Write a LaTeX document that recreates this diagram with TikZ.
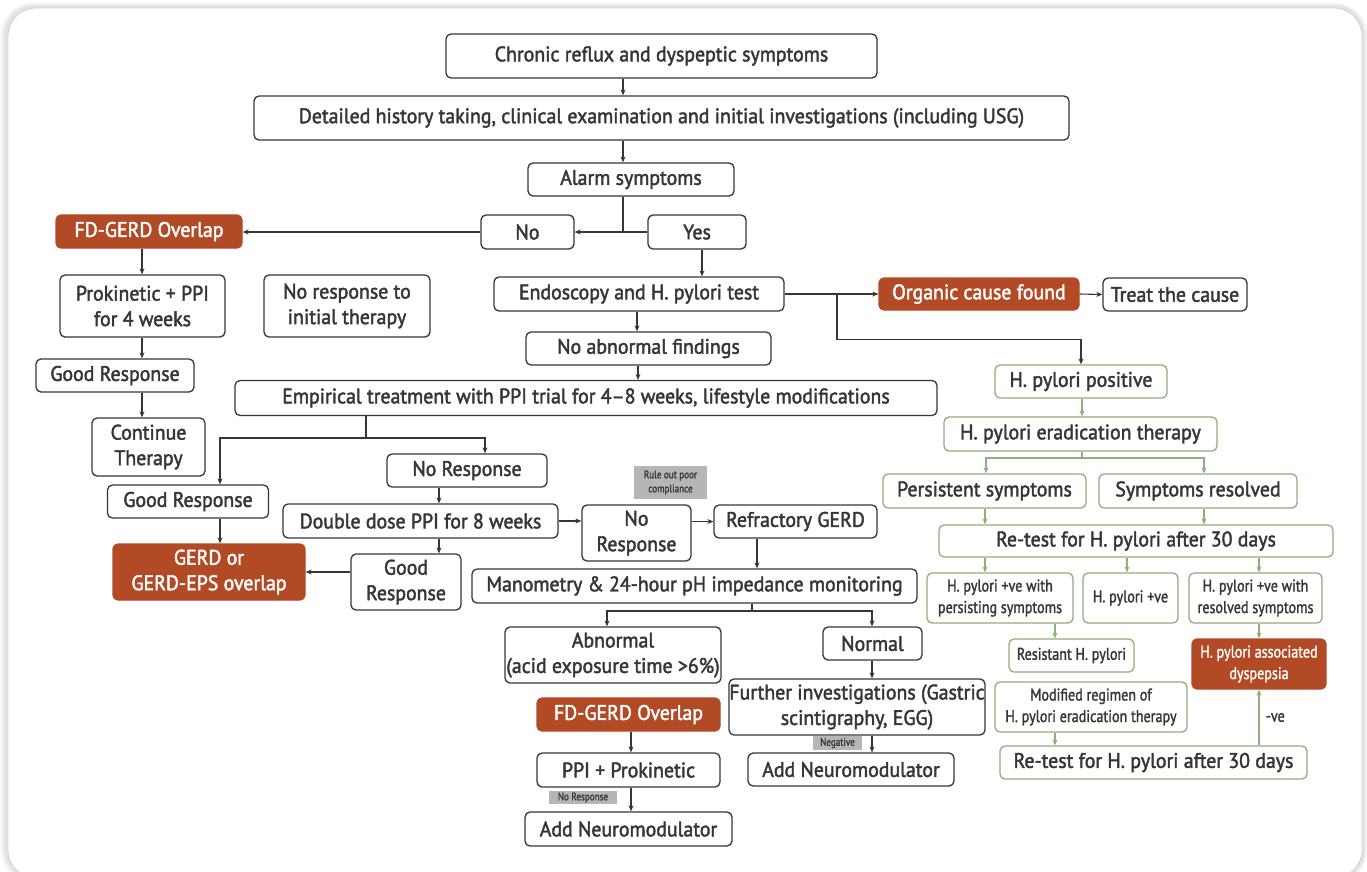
\documentclass[tikz,border=0pt]{standalone}
\usepackage{fontspec}
\setmainfont[FakeStretch=0.945, FakeBold=2]{PT Sans}
\newfontfamily\narrowfont[FakeStretch=0.83, FakeBold=1.5]{PT Sans}
\usetikzlibrary{arrows.meta,calc}

\definecolor{rust}{HTML}{B24A25}
\definecolor{leaf}{HTML}{8FAE7B}
\definecolor{ink}{HTML}{363636}
\definecolor{tagbg}{HTML}{B6B6B9}

\newcommand\mainsz{\fontsize{21}{25.5}\selectfont}
\newcommand\smallsz{\narrowfont\fontsize{17}{21.5}\selectfont}
\newcommand\tagsz{\narrowfont\fontsize{11}{14}\selectfont}

\begin{document}
\begin{tikzpicture}[x=1pt, y=-1pt,
        box/.style={draw=ink, line width=1.3pt, rounded corners=5pt, fill=white,
                    text=ink, align=center, inner sep=0pt, font=\mainsz},
        sz/.style 2 args={minimum width=#1, minimum height=#2},
        hot/.style={box, draw=rust, fill=rust, text=white},
        gbox/.style={box, draw=leaf},
        sbox/.style={gbox, font=\smallsz},
        tag/.style={fill=tagbg, text=ink, inner sep=0pt, align=center, font=\tagsz},
        arr/.style={draw=ink, line width=1.1pt, -{Stealth[length=6pt,width=5pt]}},
        garr/.style={arr, draw=leaf}
    ]
    \useasboundingbox (0,0) rectangle (1367,871);

    % frame
    \fill[gray!10, rounded corners=32] (1,3) rectangle (1367,882);
    \fill[gray!22, rounded corners=30] (4,5) rectangle (1365,880);
    \filldraw[fill=white, draw=gray!35, line width=0.8pt, rounded corners=28]
        (8,8) rectangle (1362,878);

    % main column
    \node [box, sz={431}{44}] (chronic) at (661.5,56) {Chronic reflux and dyspeptic symptoms};
    \node [box, sz={815}{44}] (history) at (661.5,118)
        {Detailed history taking, clinical examination and initial investigations (including USG)};
    \node [box, sz={206}{33}] (alarm) at (631,179.5) {Alarm symptoms};
    \node [box, sz={93}{34}]  (no)    at (527.5,232) {No};
    \node [box, sz={98}{34}]  (yes)   at (697,232) {Yes};
    \node [box, sz={290}{34}] (endo)  at (639,294) {Endoscopy and H. pylori test};
    \node [hot, sz={200}{32}] (organic) at (979,294) {Organic cause found};
    \node [box, sz={144}{33}] (treat) at (1175,294.5) {Treat the cause};
    \node [box, sz={245}{33}] (noabn) at (648.5,348.5) {No abnormal findings};
    \node [box, sz={702}{35}] (empir) at (586,398)
        {Empirical treatment with PPI trial for 4--8 weeks, lifestyle modifications};

    % left branch
    \node [hot, sz={186}{33}] (fd1) at (149,231.5) {FD-GERD Overlap};
    \node [box, sz={165}{62}] (prokin) at (142.5,306) {Prokinetic + PPI\\for 4 weeks};
    \node [box, sz={166}{62}] (noresp) at (347,306) {No response to\\initial therapy};
    \node [box, sz={158}{33}] (goodresp1) at (115,375.5) {Good Response};
    \node [box, sz={113}{58}] (contin) at (148.5,447) {Continue\\Therapy};
    \node [box, sz={161}{33}] (goodresp2) at (188,501.5) {Good Response};
    \node [box, sz={160}{33}] (noresp2) at (467,470.5) {No Response};
    \node [box, sz={275}{34}] (double) at (420.5,521) {Double dose PPI for 8 weeks};
    \node [hot, sz={192}{56}] (gerd) at (209,572) {GERD or\\GERD-EPS overlap};
    \node [box, sz={110}{56}] (good3) at (406,582) {Good\\Response};

    % refractory branch
    \node [box, sz={109}{56}] (noresp3) at (636.5,533) {No\\Response};
    \node [tag, sz={73}{33}]  (ruleout) at (670.5,482.5) {Rule out poor\\compliance};
    \node [box, sz={163}{33}] (refract) at (795.5,521.5) {Refractory GERD};
    \node [box, sz={445}{34}] (mano) at (694.5,586) {Manometry \& 24-hour pH impedance monitoring};
    \node [box, sz={216}{56}] (abnormal) at (613,655) {Abnormal\\(acid exposure time >6\%)};
    \node [box, sz={99}{33}]  (normal) at (872.5,643.5) {Normal};
    \node [box, sz={256}{56}] (further) at (857,707) {Further investigations (Gastric\\scintigraphy, EGG)};
    \node [hot, sz={183}{33}] (fd2) at (628.5,714.5) {FD-GERD Overlap};
    \node [box, sz={183}{34}] (ppiprok) at (628.5,770) {PPI + Prokinetic};
    \node [box, sz={207}{34}] (addneuro1) at (628.5,829) {Add Neuromodulator};
    \node [tag, sz={68}{13}]  (tagnr) at (583,797.5) {No Response};
    \node [box, sz={206}{33}] (addneuro2) at (851,769.5) {Add Neuromodulator};
    \node [tag, sz={49}{14}]  (tagneg) at (837.5,743) {Negative};

    % H. pylori branch
    \node [gbox, sz={172}{33}] (hpos) at (1081,381.5) {H. pylori positive};
    \node [gbox, sz={273}{34}] (hera) at (1080.5,434) {H. pylori eradication therapy};
    \node [gbox, sz={203}{34}] (persist) at (984.5,491) {Persistent symptoms};
    \node [gbox, sz={198}{34}] (resolved) at (1198,491) {Symptoms resolved};
    \node [gbox, sz={394}{32}] (retest1) at (1136,541) {Re-test for H. pylori after 30 days};
    \node [sbox, sz={146}{50}] (hp1) at (1000,598) {H. pylori +ve with\\persisting symptoms};
    \node [sbox, sz={95}{50}]  (hp2) at (1130.5,598) {H. pylori +ve};
    \node [sbox, sz={133}{50}] (hp3) at (1255.5,598) {H. pylori +ve with\\resolved symptoms};
    \node [sbox, sz={125}{33}] (resist) at (1071.5,655.5) {Resistant H. pylori};
    \node [hot, font=\smallsz, sz={134}{50}] (hpassoc) at (1259,664) {H. pylori associated\\dyspepsia};
    \node [sbox, sz={192}{50}] (modreg) at (1091,707) {Modified regimen of\\H. pylori eradication therapy};
    \node [gbox, sz={307}{33}] (retest2) at (1153.5,762.5) {Re-test for H. pylori after 30 days};

    % straight down arrows
    \foreach \a/\b/\x in {chronic/history/623, history/alarm/623, yes/endo/702,
            endo/noabn/637, noabn/empir/638, fd1/prokin/142, prokin/goodresp1/142,
            goodresp1/contin/142, noresp2/double/439, double/good3/439,
            goodresp2/gerd/220, refract/mano/757, normal/further/872,
            further/addneuro2/872, fd2/ppiprok/631, ppiprok/addneuro1/631}
        \draw [arr] (\x,0 |- \a.south) -- (\x,0 |- \b.north);
    \foreach \a/\b/\x in {hpos/hera/1082, persist/retest1/985, resolved/retest1/1204,
            retest1/hp1/985, retest1/hp2/1127, retest1/hp3/1259, hp1/resist/1055,
            hp3/hpassoc/1259, modreg/retest2/1055}
        \draw [garr] (\x,0 |- \a.south) -- (\x,0 |- \b.north);

    % sideways arrows
    \coordinate (spine) at (623,0);
    \draw [arr] (spine |- alarm.south) |- (no.east);
    \draw [ink, line width=1.1pt] (yes.west) -- (spine |- yes.west);
    \draw [arr] (no.west) -- (fd1.east |- no.west);
    \draw [arr] (endo.east) -- (organic.west);
    \draw [arr] (organic.east) -- (treat.west);
    \draw [arr] (good3.west |- gerd.east) -- (gerd.east);
    \draw [arr] (double.east) -- (noresp3.west |- double.east);
    \draw [arr] (noresp3.east |- refract.west) -- (refract.west);

    % splits
    \coordinate (osplit) at (837,294);
    \draw [arr] (osplit) |- ($(hpos.north)+(0,-25)$) -- (hpos.north);
    \coordinate (esplit) at (366,438);
    \draw [ink, line width=1.1pt] (esplit |- empir.south) -- (esplit);
    \draw [arr] (esplit) -| (220,0 |- goodresp2.north);
    \draw [arr] (esplit) -| (485,0 |- noresp2.north);
    \coordinate (msplit) at (752,611);
    \draw [ink, line width=1.1pt] (msplit |- mano.south) -- (msplit);
    \draw [arr] (msplit) -| (607,0 |- abnormal.north);
    \draw [arr] (msplit) -| (872,0 |- normal.north);
    \coordinate (hsplit) at (1082,458);
    \draw [leaf, line width=1.1pt] (hsplit |- hera.south) -- (hsplit);
    \draw [garr] (hsplit) -| (986,0 |- persist.north);
    \draw [garr] (hsplit) -| (1204,0 |- resolved.north);
    \draw [garr] (1259,0 |- retest2.north) -- (1259,0 |- hpassoc.south)
        node [midway, right=3pt, text=ink, font=\smallsz] {-ve};
\end{tikzpicture}
\end{document}
